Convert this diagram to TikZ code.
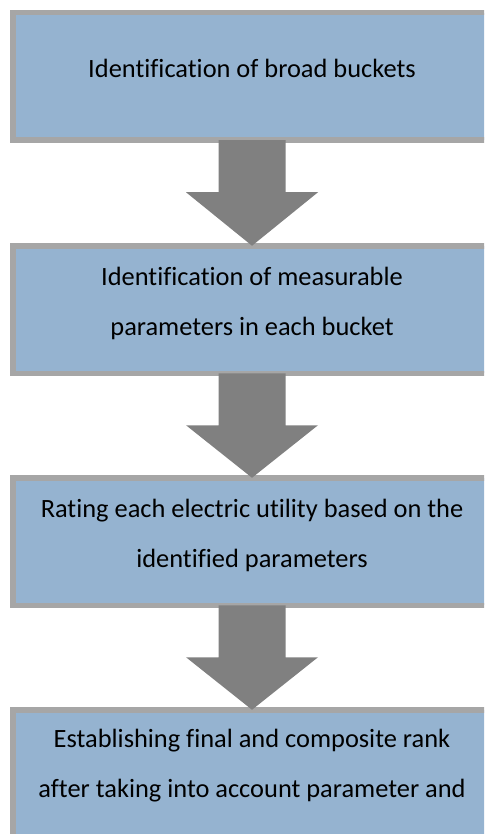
\documentclass[tikz,border=0pt]{standalone}
\usepackage{fontspec}
\setmainfont{Carlito}[Ligatures=NoCommon]
\usetikzlibrary{calc}
\definecolor{boxfill}{RGB}{149,179,208}
\definecolor{boxline}{RGB}{166,166,166}
\definecolor{flowgray}{RGB}{128,128,128}
\begin{document}
\begin{tikzpicture}[x=1pt,y=-1pt,
  stepbox/.style={draw=boxline, fill=boxfill, line width=5.5pt,
    minimum width=478.5pt, minimum height=127.5pt, inner sep=0pt,
    outer sep=0pt, anchor=north west},
  steptext/.style={anchor=base, align=center, inner sep=0pt,
    font=\fontsize{26.4}{50}\selectfont},
  flowarrow/.style={fill=flowgray, draw=none}]
\useasboundingbox (0,0) rectangle (484,834);
\clip (0,0) rectangle (484,834);

% the four process boxes (right side and last box run off the page)
\node[stepbox] (b1) at (12.75,12.75)  {};
\node[stepbox] (b2) at (12.75,245.75) {};
\node[stepbox] (b3) at (12.75,477.75) {};
\node[stepbox] (b4) at (12.75,709.75) {};

% block arrows from each box to the next
\foreach \s/\t in {b1/b2, b2/b3, b3/b4} {
  \fill[flowarrow]
    ($(\s.south)+(-33.5,0)$) -- ($(\s.south)+(33.5,0)$)
    -- ($(\s.south)+(33.5,52)$) -- ($(\s.south)+(66,52)$)
    -- (\t.north)
    -- ($(\s.south)+(-66,52)$) -- ($(\s.south)+(-33.5,52)$) -- cycle;
}

% box texts (the base anchor sits on the last line)
\node[steptext] (t1) at ($(b1.north)+(0,65.25)$) {Identification of broad buckets};
\node[steptext] (t2) at ($(b2.north)+(0,89.25)$) {Identification of measurable\\parameters in each bucket};
\node[steptext] (t3) at ($(b3.north)+(0,89.25)$) {Rating each electric utility based on the\\identified parameters};
\node[steptext] (t4) at ($(b4.north)+(0,87.75)$) {Establishing final and composite rank\\after taking into account parameter and};
\end{tikzpicture}
\end{document}
